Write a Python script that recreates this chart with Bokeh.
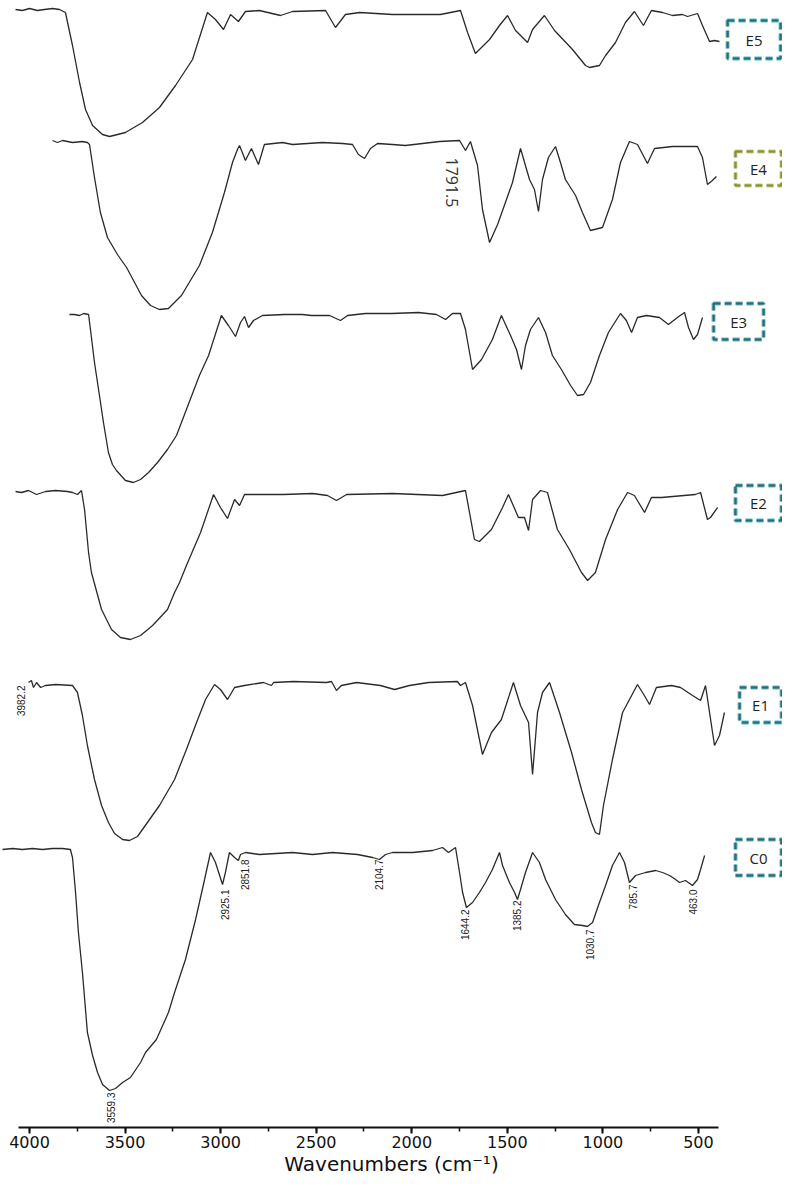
from math import pi
from bokeh.plotting import figure
from bokeh.models import Range1d, SingleIntervalTicker
from bokeh.core.properties import value
from bokeh.embed import file_html
from bokeh.resources import INLINE

# ---------------- data (wavenumber cm-1, relative transmittance a.u.) ----------------
e5_wn = [4073,4037,4000,3958,3922,3880,3843,3812,3775,3738,3707,3670,3618,3581,3498,3409,3320,3236,3147,3069,
         3027,2985,2948,2907,2870,2797,2687,2624,2451,2399,2347,2273,2101,1850,1745,1708,1667,1593,1541,1499,
         1457,1394,1368,1306,1253,1159,1091,1070,1018,986,934,882,835,788,746,688,636,584,557,505,479,442,416,390]
e5_t = [3,2,4,2,3,4,3,0,-33,-70,-97,-113,-122,-124,-120,-110,-95,-73,-47,0,
        -7,-17,-2,-9,1,2,-3,1,2,-15,-2,0,-2,-2,2,-20,-41,-27,-13,-3,
        -18,-30,-17,-3,-18,-37,-53,-55,-53,-43,-30,-10,1,-13,2,0,-3,-2,-4,-1,-13,-29,-28,-29]

e4_wn = [3880,3854,3827,3775,3723,3697,3686,3660,3629,3592,3540,3492,3414,3367,3320,3273,3205,3111,3043,2980,
         2938,2912,2901,2870,2839,2802,2771,2676,2624,2467,2362,2310,2279,2247,2216,2179,2101,2033,1944,1855,
         1750,1719,1693,1656,1630,1593,1551,1510,1473,1431,1384,1358,1337,1316,1285,1248,1222,1196,1143,1107,
         1065,1002,950,908,861,819,767,730,636,505,479,453,427,406]
e4_t = [2,0,2,0,1,0,-2,-35,-70,-95,-112,-125,-153,-163,-167,-166,-153,-123,-90,-50,
        -20,-7,-3,-18,-6,-22,-2,0,-2,0,-1,-2,-12,-16,-6,-1,-2,-3,-1,1,
        2,-8,1,-23,-67,-100,-82,-60,-40,-6,-37,-47,-69,-37,-15,-4,-20,-37,-53,-70,
        -88,-85,-57,-20,1,-2,-21,-6,-4,-4,-15,-42,-38,-34]

e3_wn = [3791,3765,3738,3717,3691,3681,3660,3634,3613,3587,3566,3545,3498,3456,3419,3377,3330,3278,3231,3179,
         3111,3063,2996,2959,2922,2896,2875,2854,2828,2781,2666,2572,2525,2430,2373,2336,2242,2106,1965,1871,
         1823,1787,1745,1719,1682,1635,1578,1531,1483,1452,1426,1405,1379,1337,1300,1264,1217,1169,1133,1101,
         1065,1018,971,908,877,850,819,772,704,657,610,573,552,526,505,479]
e3_t = [0,0,-1,1,0,-15,-48,-81,-108,-138,-150,-156,-166,-168,-165,-158,-148,-135,-121,-95,
        -61,-41,-1,-11,-22,-8,-2,-13,-6,-1,0,0,-1,-1,-6,-1,1,1,2,0,
        -5,1,1,-15,-55,-45,-25,-1,-21,-35,-55,-31,-15,-3,-18,-41,-55,-71,-81,-80,
        -68,-41,-18,1,-6,-18,-3,-1,-3,-10,-3,2,-13,-25,-20,-3]

e2_wn = [4073,4042,4005,3963,3916,3864,3801,3775,3749,3728,3712,3691,3676,3623,3571,3524,3472,3419,3356,3278,
         3241,3215,3179,3105,3037,3001,2964,2927,2901,2875,2671,2519,2441,2394,2341,2101,1839,1719,1672,1646,
         1583,1525,1494,1442,1410,1389,1368,1326,1290,1238,1175,1112,1080,1039,986,923,871,835,782,746,
         693,516,489,453,437,400]
e2_t = [0,-1,1,-3,0,1,0,-1,-3,1,-18,-61,-81,-118,-138,-146,-148,-144,-134,-118,
        -101,-91,-74,-41,-3,-16,-27,-8,-14,-3,-3,-2,-4,-9,-3,-2,-4,1,-48,-50,
        -38,-16,-3,-26,-26,-39,-8,1,-1,-38,-58,-81,-89,-81,-48,-18,-1,-4,-21,-6,
        -6,-3,-1,-28,-26,-16]

e1_wn = [4005,3990,3979,3963,3942,3916,3864,3775,3749,3723,3697,3660,3623,3587,3555,3513,3477,3435,3383,3320,
         3241,3179,3126,3079,3032,3001,2964,2927,2875,2776,2734,2723,2619,2446,2420,2394,2368,2289,2164,2090,
         2012,1912,1761,1745,1719,1682,1630,1583,1531,1468,1431,1389,1368,1342,1316,1279,1227,1164,1112,1060,
         1039,1018,997,950,897,819,783,756,720,641,594,531,489,463,442,416,390,364]
e1_t = [2,4,-3,2,-3,-1,0,-1,-8,-31,-61,-95,-121,-138,-149,-155,-156,-152,-138,-121,
        -95,-65,-38,-15,0,-5,-15,-3,-1,2,-1,2,3,2,3,-6,-1,2,-1,-5,
        -1,2,3,-1,2,-21,-70,-48,-35,2,-21,-38,-90,-28,-8,2,-28,-68,-105,-138,
        -148,-150,-121,-75,-28,0,-11,-20,-3,-1,-3,-11,-16,-1,-28,-61,-51,-28]

c0_wn = [4141,4089,4037,3984,3932,3880,3827,3786,3775,3759,3744,3723,3697,3670,3644,3618,3581,3550,3513,3472,
         3419,3393,3336,3273,3241,3184,3131,3084,3053,3027,2990,2975,2954,2927,2907,2896,2870,2797,2624,2519,
         2415,2284,2205,2169,2137,2101,1996,1891,1839,1808,1771,1750,1734,1714,1682,1646,1614,1578,1541,1525,
         1489,1462,1447,1431,1405,1368,1332,1300,1248,1196,1149,1107,1081,1054,1018,986,950,913,887,861,
         829,777,724,688,651,620,599,568,531,505,489,468]
c0_t = [1,2,1,2,1,2,2,1,-7,-42,-82,-122,-182,-205,-222,-234,-240,-238,-232,-227,
        -212,-202,-189,-162,-142,-109,-69,-29,-2,-12,-34,-22,-2,-7,-10,-4,-2,-4,-2,-4,
        -2,-4,-7,-9,-4,-2,-2,0,3,-2,3,-22,-42,-57,-52,-42,-32,-19,-2,-15,
        -32,-42,-49,-39,-22,-2,-12,-29,-49,-64,-74,-75,-76,-72,-52,-35,-15,-2,-12,-32,
        -25,-22,-20,-22,-25,-29,-32,-30,-35,-29,-19,-5]

sample_names = ["E5", "E4", "E3", "E2", "E1", "C0"]
peak_texts = ["3559.3", "2925.1", "2851.8", "2104.7", "1644.2", "1385.2", "1030.7", "785.7", "463.0"]
e1_peak_text = "3982.2"
e4_peak_text = "1791.5"

# ---------------- layout / styling ----------------
spectra = [
    (e5_wn, e5_t, 1115),
    (e4_wn, e4_t, 985),
    (e3_wn, e3_t, 813),
    (e2_wn, e2_t, 636),
    (e1_wn, e1_t, 443),
    (c0_wn, c0_t, 277),
]

p = figure(width=782, height=1178, output_backend="svg", toolbar_location=None,
           x_range=Range1d(4151.7, 60.3), y_range=Range1d(0, 1127),
           y_axis_location=None,
           min_border_left=0, min_border_right=0, min_border_top=0, min_border_bottom=51)
p.outline_line_color = None
p.xgrid.grid_line_color = None
p.ygrid.grid_line_color = None
p.background_fill_color = "white"
p.border_fill_color = "white"

ax = p.xaxis[0]
ax.ticker = SingleIntervalTicker(interval=500, num_minor_ticks=2)
ax.bounds = (395, 4057)
ax.axis_line_width = 2
ax.axis_line_color = "#111111"
ax.major_tick_out = 6
ax.major_tick_in = 0
ax.major_tick_line_width = 2
ax.major_tick_line_color = "#111111"
ax.minor_tick_out = 4
ax.minor_tick_in = 0
ax.minor_tick_line_width = 1.5
ax.minor_tick_line_color = "#111111"
ax.major_label_text_font = "DejaVu Sans"
ax.major_label_text_font_size = "16px"
ax.major_label_text_color = "#111111"
ax.major_label_standoff = 2
ax.axis_label = "Wavenumbers (cm\u207b\u00b9)"
ax.axis_label_text_font = "DejaVu Sans"
ax.axis_label_text_font_size = "20px"
ax.axis_label_text_font_style = "normal"
ax.axis_label_text_color = "#111111"
ax.axis_label_standoff = 1

for wn, t, off in spectra:
    p.line(wn, [off + v for v in t], line_color="#2a2a2a", line_width=1.3)

# peak labels (rotated, reading upward)
c0_label_pos = [(3571, 35), (2975, 238), (2870, 268), (2169, 268), (1719, 218),
                (1452, 227), (1070, 198), (845, 243), (531, 238)]
p.text(x=[q[0] for q in c0_label_pos] + [4042], y=[q[1] for q in c0_label_pos] + [442],
       text=peak_texts + [e1_peak_text], angle=pi / 2, text_align="right", text_baseline="middle",
       text_font=value("Liberation Sans"), text_font_size="10px", text_color="#222222")

# E4 label (reading downward)
p.text(x=[1787], y=[970], text=[e4_peak_text], angle=-pi / 2, text_align="left",
       text_baseline="middle", text_font=value("Open Sans"), text_font_size="16px",
       text_color="#333333")

# sample boxes
box_x = [209, 186, 290, 186, 175, 186]
box_y = [1088, 959, 806, 624.5, 422.5, 270]
box_w = [53, 46, 50, 46, 42, 46]
box_h = [38, 34, 36, 35, 35, 36]
dark = ["#256f7b", "#8a9236", "#256f7b", "#256f7b", "#256f7b", "#256f7b"]
glow = ["#a9e0e8", "#e6ecb0", "#a9e0e8", "#a9e0e8", "#a9e0e8", "#a9e0e8"]

p.rect(x=box_x, y=box_y, width=box_w, height=box_h, width_units="screen", height_units="screen",
       fill_color="white", line_color=glow, line_width=5, line_dash="7 4")
p.rect(x=box_x, y=box_y, width=box_w, height=box_h, width_units="screen", height_units="screen",
       fill_color=None, line_color=dark, line_width=2.5, line_dash="7 4")
p.text(x=box_x, y=box_y, text=sample_names, text_align="center", text_baseline="middle",
       text_font=value("Open Sans"), text_font_size="15px", text_color="#222222")

open("out.html", "w").write(file_html(p, INLINE))
